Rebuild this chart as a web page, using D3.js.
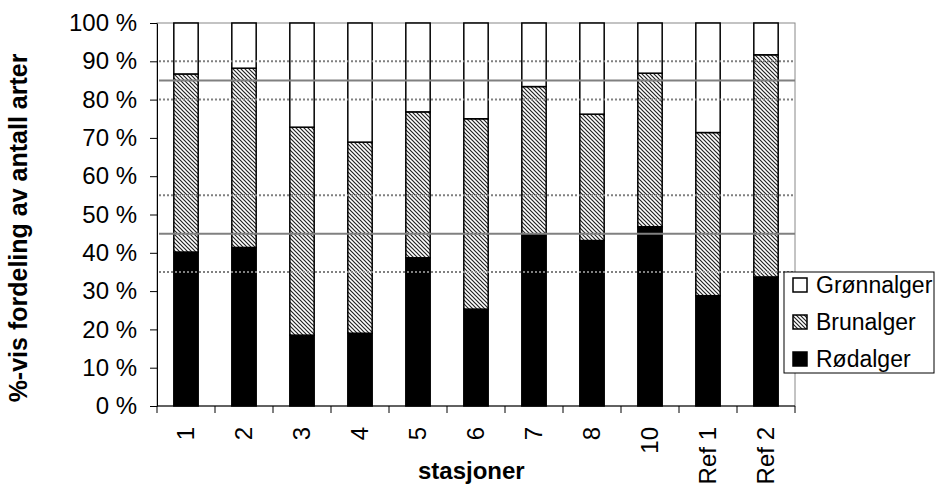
<!DOCTYPE html>
<html>
<head>
<meta charset="utf-8">
<script src="https://cdn.jsdelivr.net/npm/d3@7"></script>
<style>
  body { margin: 0; background: #fff; }
  text { font-family: "Liberation Sans", Arial, sans-serif; fill: #000; }
</style>
</head>
<body>
<script>
// stations and percentage shares
var stations = ["1", "2", "3", "4", "5", "6", "7", "8", "10", "Ref 1", "Ref 2"];
var rodalger = [40.2, 41.4, 18.5, 19.0, 38.7, 25.3, 44.9, 43.2, 46.8, 28.8, 33.7];
var brunalger = [46.5, 46.8, 54.3, 49.9, 38.1, 49.7, 38.5, 33.0, 40.1, 42.6, 58.0];
var gronnalger = [13.3, 11.8, 27.2, 31.1, 23.2, 25.0, 16.6, 23.8, 13.1, 28.6, 8.3];
var seriesNames = ["Rødalger", "Brunalger", "Grønnalger"];
var yTicks = [0, 10, 20, 30, 40, 50, 60, 70, 80, 90, 100];
var solidLines = [85, 45];
var dottedLines = [90, 80, 55, 35];

var width = 936, height = 486;
var plotLeft = 157, plotRight = 795, plotTop = 23, plotBottom = 406;

var svg = d3.select("body").append("svg")
  .attr("width", width)
  .attr("height", height);

// hatch pattern for Brunalger
var defs = svg.append("defs");
var pat = defs.append("pattern")
  .attr("id", "hatch")
  .attr("patternUnits", "userSpaceOnUse")
  .attr("width", 4)
  .attr("height", 4);
pat.append("rect").attr("width", 4).attr("height", 4).attr("fill", "#fff");
pat.append("path")
  .attr("d", "M-1,-1 L5,5 M-1,3 L1,5 M3,-1 L5,1")
  .attr("stroke", "#222")
  .attr("stroke-width", 1.2);

var fills = { "Rødalger": "#000", "Brunalger": "url(#hatch)", "Grønnalger": "#fff" };

var rows = stations.map(function (s, i) {
  return { station: s, "Rødalger": rodalger[i], "Brunalger": brunalger[i], "Grønnalger": gronnalger[i] };
});

var x = d3.scaleBand()
  .domain(stations)
  .range([plotLeft, plotRight])
  .paddingInner(0.58)
  .paddingOuter(0.29);

var y = d3.scaleLinear()
  .domain([0, 100])
  .range([plotBottom, plotTop]);

var stacked = d3.stack().keys(seriesNames)(rows);

// plot area border (grey)
svg.append("rect")
  .attr("x", plotLeft).attr("y", plotTop)
  .attr("width", plotRight - plotLeft).attr("height", plotBottom - plotTop)
  .attr("fill", "none")
  .attr("stroke", "#888")
  .attr("stroke-width", 1);

// bars
svg.append("g")
  .selectAll("g")
  .data(stacked)
  .enter().append("g")
  .attr("fill", function (d) { return fills[d.key]; })
  .selectAll("rect")
  .data(function (d) { return d; })
  .enter().append("rect")
  .attr("x", function (d) { return x(d.data.station); })
  .attr("y", function (d) { return y(d[1]); })
  .attr("width", x.bandwidth())
  .attr("height", function (d) { return y(d[0]) - y(d[1]); })
  .attr("stroke", "#000")
  .attr("stroke-width", 1.5);

// reference lines on top of bars
svg.append("g")
  .selectAll("line")
  .data(dottedLines)
  .enter().append("line")
  .attr("x1", plotLeft + 2).attr("x2", plotRight)
  .attr("y1", function (d) { return y(d); })
  .attr("y2", function (d) { return y(d); })
  .attr("stroke", "#808080")
  .attr("stroke-width", 2)
  .attr("stroke-dasharray", "2,2");

svg.append("g")
  .selectAll("line")
  .data(solidLines)
  .enter().append("line")
  .attr("x1", plotLeft + 2).attr("x2", plotRight)
  .attr("y1", function (d) { return y(d); })
  .attr("y2", function (d) { return y(d); })
  .attr("stroke", "#808080")
  .attr("stroke-width", 2);

// y axis
var yAxis = svg.append("g")
  .attr("transform", "translate(" + plotLeft + ",0)")
  .call(d3.axisLeft(y).tickValues(yTicks).tickSize(7).tickSizeOuter(0).tickPadding(13)
    .tickFormat(function (d) { return d + " %"; }));
yAxis.select(".domain").attr("stroke", "#000");
yAxis.selectAll("text")
  .style("font-size", "24px")
  .attr("fill", "#000");

// x axis: ticks at category boundaries
var xAxis = svg.append("g").attr("transform", "translate(0," + plotBottom + ")");
xAxis.append("line")
  .attr("x1", plotLeft).attr("x2", plotRight)
  .attr("stroke", "#000");
var bounds = stations.map(function (s) { return x(s) - x.step() * x.paddingOuter(); });
bounds.push(plotRight);
xAxis.selectAll("line.tick")
  .data(bounds)
  .enter().append("line")
  .attr("class", "tick")
  .attr("x1", function (d) { return d; })
  .attr("x2", function (d) { return d; })
  .attr("y1", 0).attr("y2", 7)
  .attr("stroke", "#000");
xAxis.selectAll("text")
  .data(stations)
  .enter().append("text")
  .attr("transform", function (d) {
    return "translate(" + (x(d) + x.bandwidth() / 2) + ",21) rotate(-90)";
  })
  .attr("text-anchor", "end")
  .attr("dy", "0.35em")
  .style("font-size", "24px")
  .text(function (d) { return d; });

// axis titles
svg.append("text")
  .attr("x", 418).attr("y", 479)
  .style("font-size", "24px")
  .style("font-weight", "bold")
  .text("stasjoner");

svg.append("text")
  .attr("transform", "translate(27,228) rotate(-90)")
  .attr("text-anchor", "middle")
  .style("font-size", "25px")
  .style("font-weight", "bold")
  .text("%-vis fordeling av antall arter");

// legend
var legend = svg.append("g").attr("transform", "translate(784,272)");
legend.append("rect")
  .attr("width", 150).attr("height", 101)
  .attr("fill", "#fff")
  .attr("stroke", "#000");
var items = legend.selectAll("g.item")
  .data(seriesNames.slice().reverse())
  .enter().append("g")
  .attr("class", "item")
  .attr("transform", function (d, i) { return "translate(8," + (6 + i * 37) + ")"; });
items.append("rect")
  .attr("x", 1).attr("y", 0)
  .attr("width", 14).attr("height", 14)
  .attr("fill", function (d) { return fills[d]; })
  .attr("stroke", "#000")
  .attr("stroke-width", 1.5);
items.append("text")
  .attr("x", 24).attr("y", 7)
  .attr("dy", "0.35em")
  .style("font-size", "23px")
  .text(function (d) { return d; });
</script>
</body>
</html>
